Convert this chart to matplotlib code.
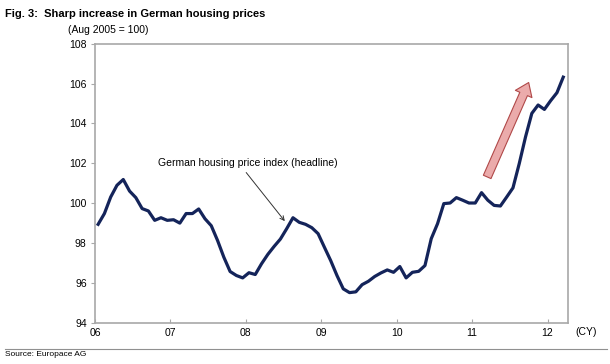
import numpy as np
import matplotlib
matplotlib.use('Agg')
import matplotlib.pyplot as plt
from matplotlib.patches import FancyArrowPatch

# Monthly German housing price index, Jan 2006 - Mar 2012 (Aug 2005 = 100)
index_2006 = [98.93, 99.47, 100.30, 100.89, 101.18, 100.60, 100.27, 99.72, 99.60, 99.13, 99.26, 99.13]
index_2007 = [99.16, 98.99, 99.47, 99.47, 99.70, 99.21, 98.86, 98.12, 97.28, 96.56, 96.36, 96.24]
index_2008 = [96.50, 96.41, 96.95, 97.42, 97.82, 98.19, 98.71, 99.26, 99.03, 98.93, 98.76, 98.46]
index_2009 = [97.78, 97.11, 96.36, 95.69, 95.50, 95.54, 95.90, 96.07, 96.31, 96.49, 96.64, 96.52]
index_2010 = [96.81, 96.24, 96.52, 96.57, 96.86, 98.21, 98.96, 99.97, 100.00, 100.27, 100.14, 100.00]
index_2011 = [100.00, 100.52, 100.14, 99.88, 99.85, 100.30, 100.76, 101.98, 103.32, 104.50, 104.92, 104.70]
index_2012 = [105.14, 105.54, 106.32]

year_labels = ['06', '07', '08', '09', '10', '11', '12']
y_ticks = [94, 96, 98, 100, 102, 104, 106, 108]

values = index_2006 + index_2007 + index_2008 + index_2009 + index_2010 + index_2011 + index_2012
months = np.arange(len(values))

plt.rcParams['font.family'] = ['Liberation Sans', 'DejaVu Sans']

fig = plt.figure(figsize=(6.10, 3.64), dpi=100)
ax = fig.add_axes([0.1557, 0.114, 0.7759, 0.766])

ax.plot(months, values, color='#14245a', linewidth=2.3, solid_joinstyle='round')

ax.set_xlim(-0.5, 74.8)
ax.set_ylim(94, 108)
ax.set_yticks(y_ticks)
ax.set_xticks(np.arange(len(year_labels)) * 12 - 0.5)
ax.set_xticklabels(year_labels)

for side in ['left', 'right', 'top', 'bottom']:
    ax.spines[side].set_color('#a8a8a8')
    ax.spines[side].set_linewidth(1.2)
ax.tick_params(axis='y', direction='out', length=3, color='#a8a8a8', labelsize=7.5, pad=3)
ax.tick_params(axis='x', direction='in', length=3, color='#a8a8a8', labelsize=7.5, pad=4)

# Annotation for the series
ax.annotate('German housing price index (headline)', xy=(29.7, 99.09), xytext=(9.5, 102.03),
            fontsize=7.5, va='center', ha='left',
            arrowprops=dict(arrowstyle='->', color='#333333', lw=0.7, shrinkA=2, shrinkB=0,
                            relpos=(0.47, 0.0)))

# Big pink arrow showing the increase
arrow = FancyArrowPatch((61.9, 101.31), (68.5, 106.05),
                        arrowstyle='simple,head_width=13,head_length=9,tail_width=6',
                        mutation_scale=1, facecolor='#ebabab', edgecolor='#b04848',
                        linewidth=0.8, shrinkA=0, shrinkB=0)
ax.add_patch(arrow)

fig.text(0.008, 0.975, 'Fig. 3:  Sharp increase in German housing prices', fontsize=8,
         fontweight='bold', va='top', ha='left')
fig.text(0.112, 0.918, '(Aug 2005 = 100)', fontsize=7.5, va='center', ha='left')
fig.text(0.943, 0.088, '(CY)', fontsize=7.5, va='center', ha='left')
fig.text(0.008, 0.025, 'Source: Europace AG', fontsize=6, va='center', ha='left')
fig.add_artist(plt.Line2D([0.008, 0.995], [0.041, 0.041], color='#909090', linewidth=0.8))

fig.savefig('out.png', dpi=100, facecolor='white')
